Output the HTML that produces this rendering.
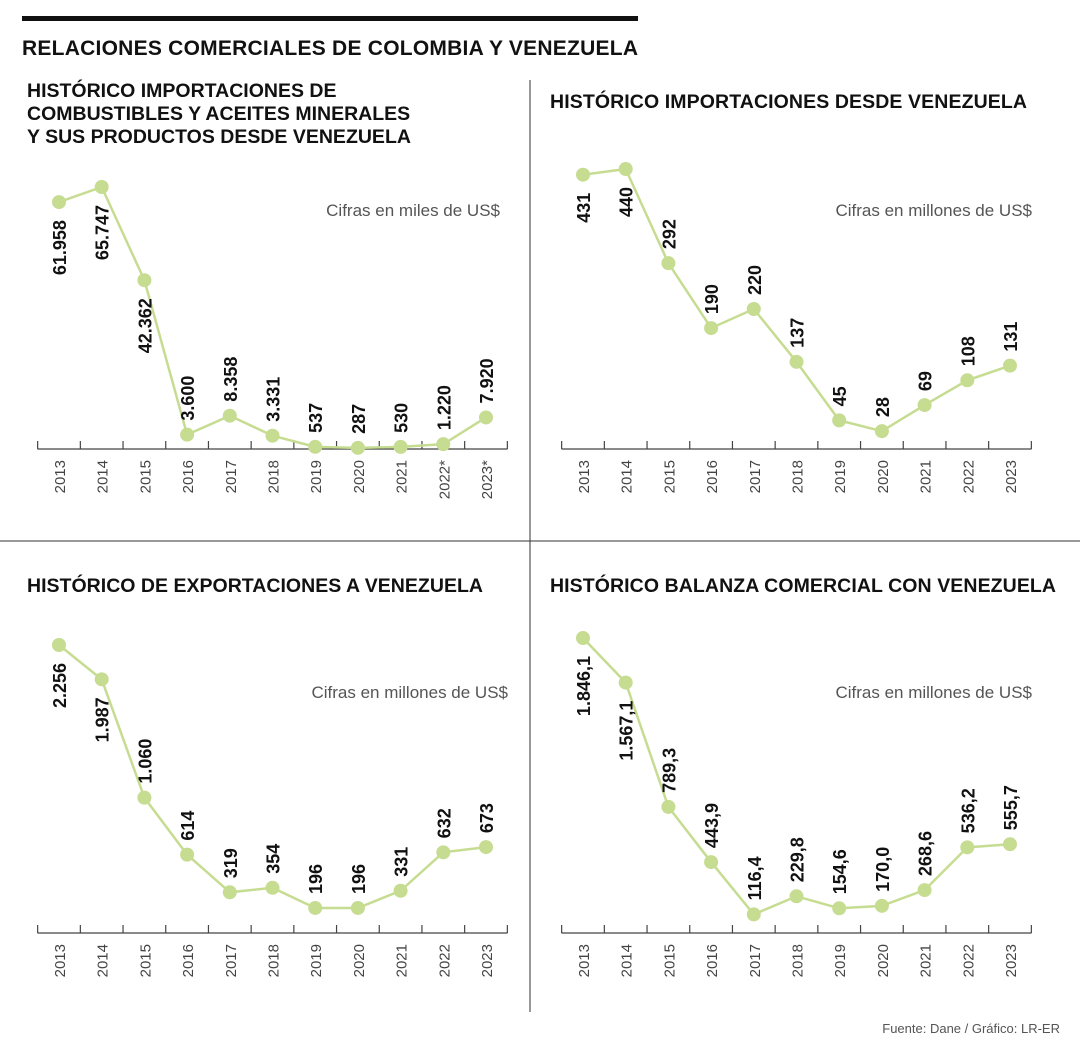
<!DOCTYPE html>
<html><head><meta charset="utf-8">
<style>
html,body{margin:0;padding:0;background:#fff;}
svg{display:block;font-family:"Liberation Sans",sans-serif;}
.ttl{font-weight:bold;font-size:19.5px;fill:#111;}
.note{font-size:17px;fill:#555;}
.yr{font-size:15px;fill:#444;}
.val{font-size:18px;font-weight:bold;fill:#111;}
</style></head>
<body>
<svg id="root" width="1080" height="1055" viewBox="0 0 1080 1055">
<rect x="22" y="16" width="616" height="5" fill="#111"/>
<text x="22" y="55" textLength="616" style="font-size:21px;font-weight:bold;fill:#111">RELACIONES COMERCIALES DE COLOMBIA Y VENEZUELA</text>
<line x1="530" y1="80" x2="530" y2="1012" stroke="#333" stroke-width="1"/>
<line x1="0" y1="541" x2="1080" y2="541" stroke="#333" stroke-width="1"/>
<text class="ttl" x="27" y="97"><tspan x="27">HISTÓRICO IMPORTACIONES DE</tspan><tspan x="27" dy="23">COMBUSTIBLES Y ACEITES MINERALES</tspan><tspan x="27" dy="23">Y SUS PRODUCTOS DESDE VENEZUELA</tspan></text>
<text class="ttl" x="550" y="108" textLength="477">HISTÓRICO IMPORTACIONES DESDE VENEZUELA</text>
<text class="ttl" x="27" y="592" textLength="456">HISTÓRICO DE EXPORTACIONES A VENEZUELA</text>
<text class="ttl" x="550" y="592" textLength="506">HISTÓRICO BALANZA COMERCIAL CON VENEZUELA</text>
<text class="note" x="500" y="216" text-anchor="end">Cifras en miles de US$</text>
<text class="note" x="1032" y="216" text-anchor="end">Cifras en millones de US$</text>
<text class="note" x="508" y="698" text-anchor="end">Cifras en millones de US$</text>
<text class="note" x="1032" y="698" text-anchor="end">Cifras en millones de US$</text>
<text x="1060" y="1033" text-anchor="end" style="font-size:13px;fill:#555">Fuente: Dane / Gráfico: LR-ER</text>
<g id="charts"></g>
</svg>
<script>
const years1 = ["2013","2014","2015","2016","2017","2018","2019","2020","2021","2022*","2023*"];
const years = ["2013","2014","2015","2016","2017","2018","2019","2020","2021","2022","2023"];
const fuelValues = [61958,65747,42362,3600,8358,3331,537,287,530,1220,7920];
const fuelLabels = ["61.958","65.747","42.362","3.600","8.358","3.331","537","287","530","1.220","7.920"];
const fuelBelow = [1,1,1,0,0,0,0,0,0,0,0];
const importValues = [431,440,292,190,220,137,45,28,69,108,131];
const importLabels = ["431","440","292","190","220","137","45","28","69","108","131"];
const importBelow = [1,1,0,0,0,0,0,0,0,0,0];
const exportValues = [2256,1987,1060,614,319,354,196,196,331,632,673];
const exportLabels = ["2.256","1.987","1.060","614","319","354","196","196","331","632","673"];
const exportBelow = [1,1,0,0,0,0,0,0,0,0,0];
const balanceValues = [1846.1,1567.1,789.3,443.9,116.4,229.8,154.6,170.0,268.6,536.2,555.7];
const balanceLabels = ["1.846,1","1.567,1","789,3","443,9","116,4","229,8","154,6","170,0","268,6","536,2","555,7"];
const balanceBelow = [1,1,0,0,0,0,0,0,0,0,0];

const NS="http://www.w3.org/2000/svg";
const G=document.getElementById('charts');
function mk(tag,attrs,parent){const e=document.createElementNS(NS,tag);for(const k in attrs)e.setAttribute(k,attrs[k]);(parent||G).appendChild(e);return e;}

function chart(id,x0,base,maxVal,maxPx,cats,vals,labels,below){
  const g=mk('g',{});
  
  
  const step=42.7;
  const xs=i=>x0+i*step;
  const ys=v=>base-v/maxVal*maxPx;
  const axis=mk('line',{x1:xs(0)-21.5,y1:base,x2:xs(10)+21.5,y2:base,stroke:'#444','stroke-width':1.3},g);
  
  
  for(let i=0;i<=11;i++){
    const tx=xs(i)-21.35;
    const t=mk('line',{x1:tx,y1:base-8,x2:tx,y2:base,stroke:'#444','stroke-width':1.2},g);
    
    
  }
  cats.forEach((c,i)=>{
    const t=mk('text',{class:'yr','text-anchor':'end',transform:`translate(${xs(i)+6},${base+11}) rotate(-90)`},g);
    t.textContent=c;
    
    
  });
  const pts=vals.map((v,i)=>xs(i)+','+ys(v)).join(' ');
  const line=mk('polyline',{points:pts,fill:'none',stroke:'#c6dc91','stroke-width':2.5},g);
  
  
  vals.forEach((v,i)=>{
    const c=mk('circle',{cx:xs(i),cy:ys(v),r:7,fill:'#c6dc91'},g);
    
    
    let t;
    if(below[i]) t=mk('text',{class:'val','text-anchor':'end',transform:`translate(${xs(i)+7},${ys(v)+18}) rotate(-90)`},g);
    else t=mk('text',{class:'val','text-anchor':'start',transform:`translate(${xs(i)+7},${ys(v)-14}) rotate(-90)`},g);
    t.textContent=labels[i];
    
    
  });
}
chart('chart-fuel-imports',59,449,65747,262,years1,fuelValues,fuelLabels,fuelBelow);
chart('chart-imports',583,449,440,280,years,importValues,importLabels,importBelow);
chart('chart-exports',59,933,2256,288,years,exportValues,exportLabels,exportBelow);
chart('chart-balance',583,933,1846.1,295,years,balanceValues,balanceLabels,balanceBelow);
</script>
</body></html>
